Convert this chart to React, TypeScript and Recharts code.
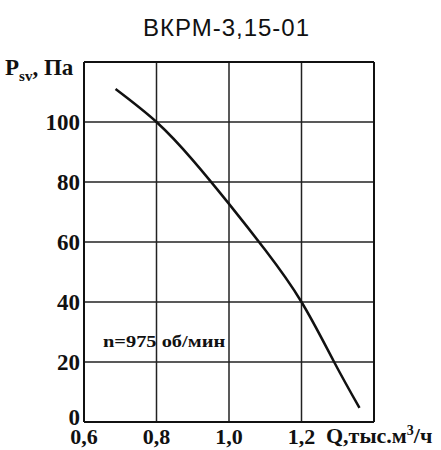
import { LineChart, Line, XAxis, YAxis, CartesianGrid, ReferenceLine } from 'recharts';

const flowQ = [0.687, 0.8, 0.9, 1.0, 1.1, 1.2, 1.29, 1.36];
const pressure = [111, 100, 87.3, 72.7, 57.3, 40, 20, 4.7];
const xTicks = [0.6, 0.8, 1.0, 1.2, 1.4];
const yTicks = [0, 20, 40, 60, 80, 100, 120];

const data = flowQ.map((q, i) => ({ q, p: pressure[i] }));

const serif = '"Liberation Serif", "Times New Roman", serif';
const tickStyle = { fill: '#111', fontFamily: serif, fontWeight: 700, fontSize: 22 };

const fmtX = (v: number) => (v === 1.4 ? '' : v.toFixed(1).replace('.', ','));

// y labels; the bottom "0" sits a little higher so it clears "0,6"
const YTick = (props: any) => {
  const { x, y, payload } = props;
  if (payload.value === 120) return null;
  return (
    <text
      x={x}
      y={payload.value === 0 ? y - 5 : y}
      dy="0.355em"
      textAnchor="end"
      fill="#111"
      fontFamily={serif}
      fontWeight={700}
      fontSize={23}
    >
      {payload.value}
    </text>
  );
};

const App = () => {
  return (
    <div style={{ position: 'absolute', left: 0, top: 0, width: 441, height: 450, background: '#fff' }}>
      <div
        style={{
          position: 'absolute',
          left: 0,
          width: 441,
          top: 14,
          textAlign: 'center',
          paddingLeft: 12,
          boxSizing: 'border-box',
          fontFamily: '"Liberation Sans", Arial, sans-serif',
          fontSize: 24,
          letterSpacing: 1,
          color: '#111',
        }}
      >
        ВКРМ-3,15-01
      </div>

      <LineChart width={441} height={450} data={data} margin={{ top: 62, right: 67, left: 0, bottom: 0 }}>
        <CartesianGrid stroke="#222" strokeWidth={1.5} />
        <XAxis
          dataKey="q"
          type="number"
          domain={[0.6, 1.4]}
          ticks={xTicks}
          tickFormatter={fmtX}
          height={28}
          tickSize={0}
          tickMargin={6}
          axisLine={{ stroke: '#111', strokeWidth: 2 }}
          tick={tickStyle}
          interval={0}
        />
        <YAxis
          type="number"
          domain={[0, 120]}
          ticks={yTicks}
          width={84}
          tickSize={0}
          tickMargin={4}
          axisLine={{ stroke: '#111', strokeWidth: 2 }}
          tick={<YTick />}
          interval={0}
        />
        <ReferenceLine x={1.4} stroke="#111" strokeWidth={2} />
        <ReferenceLine y={120} stroke="#111" strokeWidth={2} />
        <Line
          dataKey="p"
          type="natural"
          stroke="#111"
          strokeWidth={2.5}
          dot={false}
          isAnimationActive={false}
        />
      </LineChart>

      <div style={{ position: 'absolute', left: 5, top: 55, fontFamily: serif, fontWeight: 700, fontSize: 23, color: '#111', whiteSpace: 'nowrap' }}>
        P<sub style={{ fontSize: 15 }}>sv</sub>, Па
      </div>
      <div
        style={{
          position: 'absolute',
          left: 103,
          top: 332,
          fontFamily: serif,
          fontWeight: 700,
          fontSize: 17,
          color: '#111',
          whiteSpace: 'nowrap',
          transform: 'scaleX(1.2)',
          transformOrigin: 'left center',
        }}
      >
        n=975 об/мин
      </div>
      <div style={{ position: 'absolute', left: 326, top: 423, fontFamily: serif, fontWeight: 700, fontSize: 22, color: '#111', whiteSpace: 'nowrap' }}>
        Q,тыс.м<sup style={{ fontSize: 14 }}>3</sup>/ч
      </div>
    </div>
  );
};

export default App;
